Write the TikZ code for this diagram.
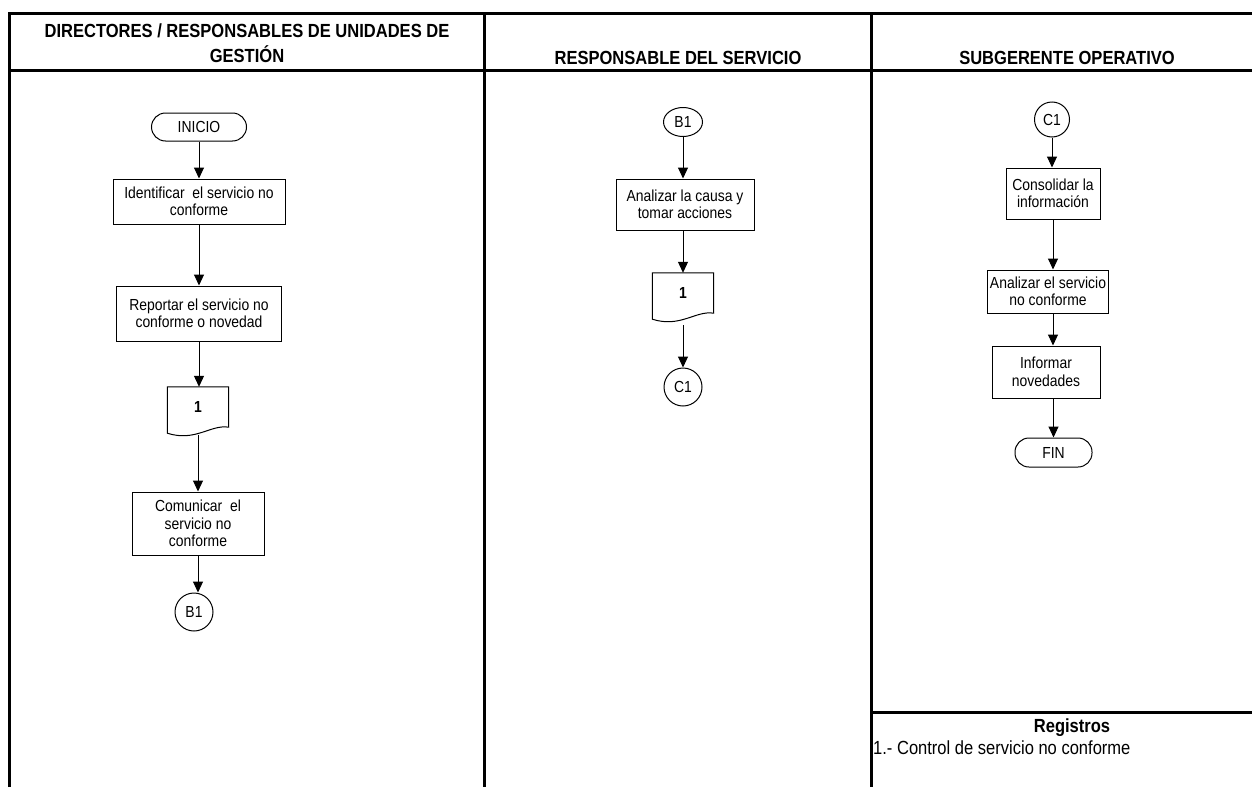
\documentclass[tikz,border=0pt]{standalone}
\usepackage{fontspec}
\setmainfont{Liberation Sans}[FakeStretch=0.87]
\usetikzlibrary{shapes.geometric,arrows.meta,calc}
\begin{document}
\begin{tikzpicture}[x=1pt,y=-1pt,
  frame/.style={line width=3pt},
  proc/.style={draw,line width=1pt,rectangle,align=center,font=\fontsize{16}{17.5}\selectfont,inner sep=2pt},
  term/.style={draw,line width=1pt,rectangle,rounded corners=14pt,font=\fontsize{16}{17.5}\selectfont,inner sep=0pt},
  conn/.style={draw,line width=1pt,circle,inner sep=0pt,font=\fontsize{16}{17.5}\selectfont},
  docbox/.style={rectangle,inner sep=0pt,font=\bfseries\fontsize{16}{17.5}\selectfont,minimum width=61pt,minimum height=40pt},
  docline/.style={line width=1pt},
  arr/.style={line width=1pt,-{Triangle[length=11pt,width=10pt]}},
  hdr/.style={font=\bfseries\fontsize{19}{25}\selectfont,align=center}
]
\useasboundingbox (0,0) rectangle (1252,787);
\fill[white] (0,0) rectangle (1252,787);

% table frame
\draw[frame] (9,787) -- (9,13) -- (1252,13);
\draw[frame] (9,70) -- (1252,70);
\draw[frame] (484,13) -- (484,787);
\draw[frame] (871,13) -- (871,787);
\draw[frame] (871,712) -- (1252,712);

% headers
\node[hdr] (h1) at (247,43) {DIRECTORES / RESPONSABLES DE UNIDADES DE\\GESTIÓN};
\node[hdr] (h2) at (678,58) {RESPONSABLE DEL SERVICIO};
\node[hdr] (h3) at (1067,58) {SUBGERENTE OPERATIVO};

% column 1
\node[term, minimum width=95pt, minimum height=28pt] (inicio) at (199,127) {INICIO};
\node[proc, minimum width=172pt, minimum height=45pt] (ident) at (199,201.5) {Identificar\ \ el servicio no\\conforme};
\node[proc, minimum width=165pt, minimum height=55pt] (rep) at (199,313.5) {Reportar el servicio no\\conforme o novedad};
\node[docbox] (d1) at (198,407) {1};
\draw[docline] (d1.north west) -- (d1.north east) -- (d1.south east)
  .. controls ($(d1.south east)+(-18,-3)$) and ($(d1.south west)+(28,15)$) .. ($(d1.south west)+(0,6)$) -- cycle;
\node[proc, minimum width=132pt, minimum height=63pt] (com) at (198,523.5) {Comunicar\ \ el\\servicio no\\conforme};
\node[conn, minimum size=38pt] (b1a) at (194,612) {B1};

\draw[arr] (inicio.south) -- (inicio.south |- ident.north);
\draw[arr] (ident.south) -- (ident.south |- rep.north);
\draw[arr] (rep.south) -- (rep.south |- d1.north);
\draw[arr] ($(d1.south)+(0,8)$) -- (d1.south |- com.north);
\draw[arr] (com.south) -- (com.south |- b1a.north);

% column 2
\node[conn, ellipse, minimum width=39pt, minimum height=29pt] (b1b) at (683,122) {B1};
\node[proc, minimum width=138pt, minimum height=51pt] (ana) at (685,204.5) {Analizar la causa y\\tomar acciones};
\node[docbox] (d2) at (683,293) {1};
\draw[docline] (d2.north west) -- (d2.north east) -- (d2.south east)
  .. controls ($(d2.south east)+(-18,-3)$) and ($(d2.south west)+(28,15)$) .. ($(d2.south west)+(0,6)$) -- cycle;
\node[conn, minimum size=38pt] (c1a) at (683,387) {C1};

\draw[arr] (b1b.south) -- (b1b.south |- ana.north);
\draw[arr] (ana.south -| d2.north) -- (d2.north);
\draw[arr] ($(d2.south)+(0,12)$) -- (d2.south |- c1a.north);

% column 3
\node[conn, minimum size=35pt] (c1b) at (1052,119.5) {C1};
\node[proc, minimum width=94pt, minimum height=51pt] (con) at (1053,193.5) {Consolidar la\\información};
\node[proc, minimum width=121pt, minimum height=43pt] (anl) at (1048,291.5) {Analizar el servicio\\no conforme};
\node[proc, minimum width=108pt, minimum height=52pt] (inf) at (1046,372) {Informar\\novedades};
\node[term, minimum width=77pt, minimum height=29pt] (fin) at (1053.5,452.5) {FIN};

\draw[arr] (c1b.south) -- (c1b.south |- con.north);
\draw[arr] (con.south) -- (con.south |- anl.north);
\draw[arr] (anl.south -| con.south) -- (con.south |- inf.north);
\draw[arr] (inf.south -| fin.north) -- (fin.north);

% registros
\node[font=\bfseries\fontsize{19}{22}\selectfont] (reg) at (1072,728) {Registros};
\node[font=\fontsize{19}{22}\selectfont, anchor=west, inner sep=0pt] (r1) at (873,748) {1.- Control de servicio no conforme};
\end{tikzpicture}
\end{document}
